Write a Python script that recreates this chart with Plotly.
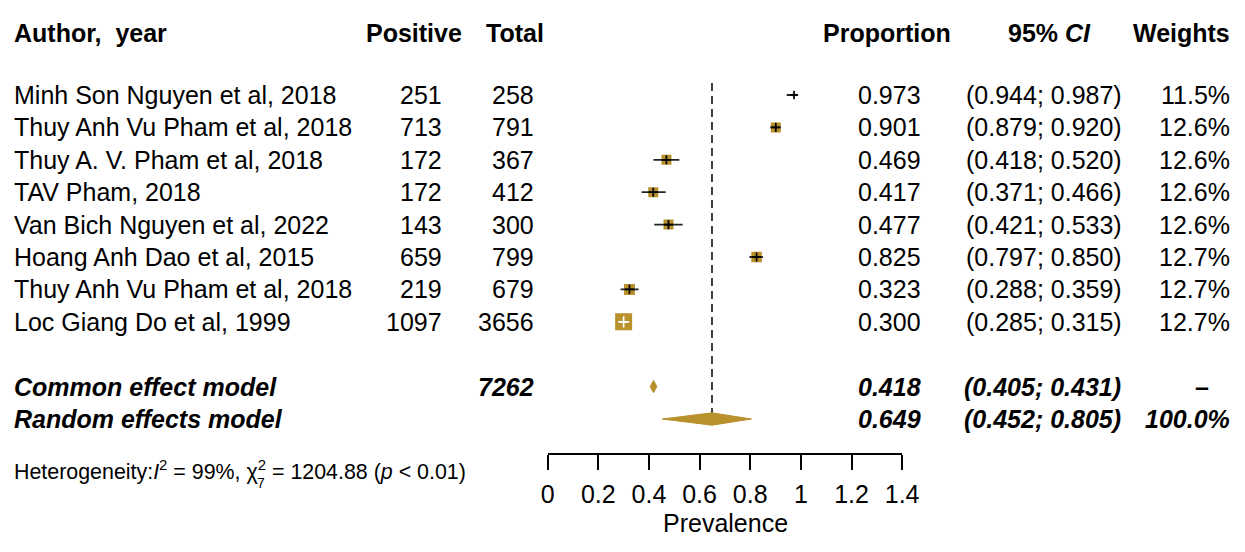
import plotly.graph_objects as go

# ---------------- data ----------------
authors = ["Minh Son Nguyen et al, 2018", "Thuy Anh Vu Pham et al, 2018",
           "Thuy A. V. Pham et al, 2018", "TAV Pham, 2018",
           "Van Bich Nguyen et al, 2022", "Hoang Anh Dao et al, 2015",
           "Thuy Anh Vu Pham et al, 2018", "Loc Giang Do et al, 1999"]
positive = [251, 713, 172, 172, 143, 659, 219, 1097]
total = [258, 791, 367, 412, 300, 799, 679, 3656]
prop = [0.973, 0.901, 0.469, 0.417, 0.477, 0.825, 0.323, 0.300]
ci_lo = [0.944, 0.879, 0.418, 0.371, 0.421, 0.797, 0.288, 0.285]
ci_hi = [0.987, 0.920, 0.520, 0.466, 0.533, 0.850, 0.359, 0.315]
weights = [11.5, 12.6, 12.6, 12.6, 12.6, 12.7, 12.7, 12.7]

common_total = 7262
common_est, common_lo, common_hi = 0.418, 0.405, 0.431
random_est, random_lo, random_hi = 0.649, 0.452, 0.805
random_weight = 100.0

tick_vals = [0, 0.2, 0.4, 0.6, 0.8, 1.0, 1.2, 1.4]
tick_text = ["0", "0.2", "0.4", "0.6", "0.8", "1", "1.2", "1.4"]

# ---------------- styles ----------------
W, H = 1245, 552
# observed placement of the figure inside the page (page pixels)
L, WF, TOP = 15.5, 1216.0, 8.0
FONT = "Liberation Sans, Arial, Helvetica, sans-serif"
GOLD = "#B8902C"
FS = 25
sq_size = [3, 10, 10, 10, 10, 10.5, 11, 17]
cross_size = [6, 6.5, 6.5, 6.5, 6.5, 6.5, 6.5, 8]
cross_col = ["black"] * 7 + ["white"]
ci_col = ["#222222"] * 7 + ["white"]

ROW0, DY = 95.0, 32.4  # page pixel of first row, row spacing


def fx(px):
    return (px - L) / WF


def fy(py):
    return 1 - (py - TOP) / H


rows = list(range(len(authors)))
row_common, row_random, row_header = 9, 10, -1.91

fig = go.Figure()

fig.add_trace(go.Scatter(x=prop, y=rows, mode="markers", hoverinfo="skip",
                         marker=dict(symbol="square", size=sq_size, color=GOLD,
                                     opacity=1, line=dict(width=0))))
for i in rows:
    fig.add_trace(go.Scatter(x=[ci_lo[i], ci_hi[i]], y=[i, i], mode="lines",
                             hoverinfo="skip",
                             line=dict(color=ci_col[i], width=1.8)))
fig.add_trace(go.Scatter(x=prop, y=rows, mode="markers", hoverinfo="skip",
                         marker=dict(symbol="cross-thin", size=cross_size, opacity=1,
                                     line=dict(width=1.7, color=cross_col))))

hh = 0.19
for est, lo, hi, r in [(common_est, common_lo, common_hi, row_common),
                       (random_est, random_lo, random_hi, row_random)]:
    fig.add_trace(go.Scatter(x=[lo, est, hi, est, lo], y=[r, r - hh, r, r + hh, r],
                             mode="lines", fill="toself", fillcolor=GOLD,
                             line=dict(color=GOLD, width=1), hoverinfo="skip"))

fig.add_shape(type="line", xref="x", yref="y", x0=random_est, x1=random_est,
              y0=-0.37, y1=9.8, line=dict(color="black", width=1.5, dash="8px,5px"))

ann = []


def T(text, px, y, anchor="left", size=FS, yref="y"):
    ann.append(dict(text=text, x=fx(px), xref="paper", y=y, yref=yref,
                    xanchor=anchor, yanchor="middle", showarrow=False,
                    font=dict(family=FONT, size=size, color="black")))


T("<b>Author,&nbsp; year</b>", 13, row_header)
T("<b>Positive</b>", 463, row_header, "right")
T("<b>Total</b>", 544, row_header, "right")
T("<b>Proportion</b>", 950, row_header, "right")
T("<b>95% <i>CI</i></b>", 1046, row_header, "center")
T("<b>Weights</b>", 1228, row_header, "right")

for i in rows:
    T(authors[i], 13, i)
    T(str(positive[i]), 443, i, "right")
    T(str(total[i]), 534, i, "right")
    T(f"{prop[i]:.3f}", 920, i, "right")
    T(f"({ci_lo[i]:.3f}; {ci_hi[i]:.3f})", 1120, i, "right")
    T(f"{weights[i]:.1f}%", 1228, i, "right")

T("<b><i>Common effect model</i></b>", 13, row_common)
T(f"<b><i>{common_total}</i></b>", 534, row_common, "right")
T(f"<b><i>{common_est:.3f}</i></b>", 920, row_common, "right")
T(f"<b><i>({common_lo:.3f}; {common_hi:.3f})</i></b>", 1119, row_common, "right")
T("<b>–</b>", 1198, row_common, "center")

T("<b><i>Random effects model</i></b>", 13, row_random)
T(f"<b><i>{random_est:.3f}</i></b>", 920, row_random, "right")
T(f"<b><i>({random_lo:.3f}; {random_hi:.3f})</i></b>", 1119, row_random, "right")
T(f"<b><i>{random_weight:.1f}%</i></b>", 1228, row_random, "right")

T("Heterogeneity:<i>I</i><sup>2</sup> = 99%, χ<sup>2</sup> = 1204.88 (<i>p</i> &lt; 0.01)",
  13, fy(470), size=21.4, yref="paper")
T("7", 255, fy(483), size=14, yref="paper")

T("Prevalence", 723.5, fy(523), "center", yref="paper")

fig.update_layout(
    width=W, height=H, margin=dict(l=0, r=0, t=0, b=0),
    paper_bgcolor="white", plot_bgcolor="white", showlegend=False,
    annotations=ann,
    xaxis=dict(domain=[fx(546), fx(899)], range=[0, 1.4], tickvals=tick_vals,
               ticktext=tick_text, showline=True, linecolor="black", linewidth=1.5,
               ticks="outside", ticklen=15, tickwidth=1.5, tickcolor="black",
               tickfont=dict(family=FONT, size=FS, color="black"),
               ticklabelstandoff=3, showgrid=False, zeroline=False, fixedrange=True),
    yaxis=dict(domain=[fy(453), 1],
               range=[(453 - ROW0) / DY, (TOP - ROW0) / DY],
               visible=False, showgrid=False, zeroline=False, fixedrange=True),
)

fig.write_html("out.html")
